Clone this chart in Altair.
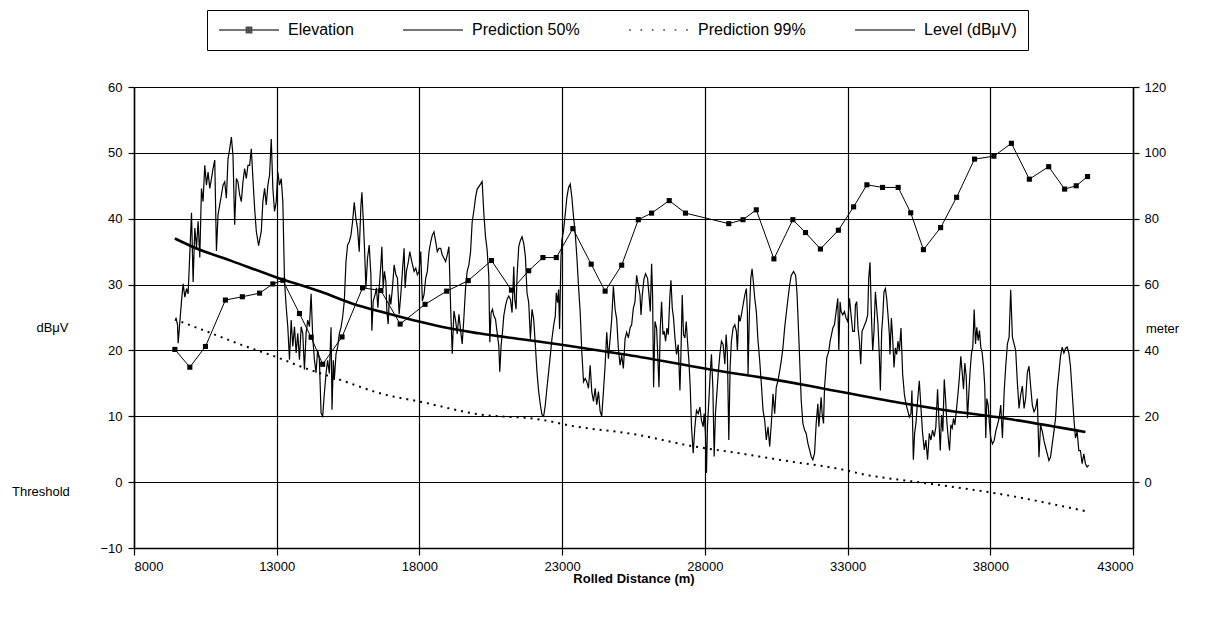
import altair as alt
import pandas as pd

FONT = "Liberation Sans"

# ---------------- data ----------------
x_ticks = [8000, 13000, 18000, 23000, 28000, 33000, 38000, 43000]
db_ticks = [-10, 0, 10, 20, 30, 40, 50, 60]
m_ticks = [0, 20, 40, 60, 80, 100, 120]
series_names = ["Elevation", "Prediction 50%", "Prediction 99%", "Level (dBμV)"]

elev_dist = [9432, 9956, 10504, 11202, 11796, 12400, 12864, 13214, 13797, 14205,
             14610, 15288, 16007, 16650, 17324, 18197, 18955, 19709, 20526, 21224,
             21828, 22327, 22795, 23375, 24017, 24506, 25086, 25669, 26134, 26752,
             27321, 28837, 29336, 29801, 30419, 31082, 31526, 32049, 32678, 33212,
             33677, 34225, 34773, 35213, 35657, 36261, 36820, 37448, 38126, 38740,
             39369, 40046, 40605, 41010, 41408]
elev_m = [40.3, 34.9, 41.2, 55.3, 56.3, 57.4, 60.2, 61.3, 51.2, 44.0,
          35.8, 44.1, 59.0, 58.2, 48.0, 54.0, 58.0, 61.2, 67.3, 58.3,
          64.2, 68.2, 68.2, 77.0, 66.2, 58.0, 65.9, 79.7, 81.7, 85.5,
          81.7, 78.5, 79.7, 82.7, 67.8, 79.7, 75.8, 70.8, 76.5, 83.6,
          90.3, 89.5, 89.5, 81.8, 70.6, 77.3, 86.5, 98.1, 99.0, 102.9,
          92.0, 95.8, 89.0, 90.0, 92.8]

p50_dist = [9432, 10130, 11412, 12924, 14554, 15657, 16824, 17987, 19000, 20083,
            22352, 25320, 28140, 30795, 32228, 35045, 36322, 38485, 41333]
p50_db = [37.0, 35.6, 33.6, 31.2, 28.9, 27.1, 25.7, 24.4, 23.4, 22.6,
          21.25, 19.3, 17.15, 15.3, 14.15, 11.9, 11.0, 9.7, 7.6]

p99_dist = [9432, 10714, 11761, 12924, 13971, 15078, 16824, 17987, 20083, 22237,
            23400, 25494, 27651, 28812, 30900, 32832, 33646, 34750, 36150, 38200, 41333]
p99_db = [24.7, 22.6, 20.85, 19.1, 17.35, 15.75, 13.25, 12.25, 10.3, 9.5,
          8.5, 7.3, 5.4, 4.65, 3.2, 1.9, 1.1, 0.4, -0.4, -1.7, -4.4]

level_pts = [
    (9467, 25.0), (9526, 23.9), (9547, 21.1), (9666, 27.6), (9722, 30.1), (9781, 28.1),
    (9841, 29.4), (9896, 28.6), (10015, 40.9), (10071, 30.4), (10130, 38.6), (10190, 35.6),
    (10246, 39.6), (10305, 34.1), (10364, 44.6), (10420, 42.6), (10480, 48.1), (10539, 45.1),
    (10595, 47.1), (10654, 44.6), (10714, 46.1), (10769, 47.6), (10829, 48.9), (10888, 35.1),
    (10944, 40.6), (11003, 42.1), (11063, 43.6), (11119, 45.1), (11178, 45.6), (11237, 43.1),
    (11293, 49.1), (11353, 50.6), (11412, 52.4), (11468, 49.6), (11527, 39.1), (11587, 46.1),
    (11642, 45.6), (11702, 43.6), (11761, 42.6), (11817, 45.6), (11876, 47.6), (11936, 46.1),
    (11992, 48.1), (12051, 48.1), (12110, 50.6), (12166, 46.1), (12226, 41.6), (12285, 38.1),
    (12365, 35.9), (12460, 38.1), (12515, 42.6), (12575, 44.6), (12634, 42.1), (12690, 45.1),
    (12749, 46.6), (12809, 52.1), (12865, 44.6), (12924, 41.1), (12983, 42.6), (13039, 47.1),
    (13098, 45.1), (13158, 46.1), (13214, 42.6), (13273, 30.6), (13332, 26.6), (13388, 23.6),
    (13448, 18.6), (13507, 24.6), (13563, 20.6), (13622, 23.6), (13681, 19.6), (13737, 22.6),
    (13797, 18.6), (13856, 23.6), (13912, 22.6), (13971, 17.1), (14030, 22.6), (14086, 24.6),
    (14146, 23.6), (14205, 28.6), (14261, 22.1), (14320, 18.6), (14379, 16.6), (14435, 20.1),
    (14495, 18.6), (14554, 10.5), (14610, 10.0), (14669, 13.5), (14728, 16.5), (14784, 18.5),
    (14844, 16.5), (14903, 23.5), (14938, 11.0), (14983, 18.5), (15018, 15.5), (15078, 19.5),
    (15134, 20.5), (15193, 22.5), (15252, 23.5), (15308, 25.0), (15368, 27.5), (15427, 33.5),
    (15483, 36.0), (15542, 36.5), (15601, 37.5), (15657, 39.5), (15717, 42.5), (15776, 40.0),
    (15832, 38.5), (15891, 35.0), (15950, 42.0), (15985, 44.0), (16031, 40.0), (16076, 35.5),
    (16125, 29.5), (16181, 34.0), (16240, 36.0), (16299, 31.5), (16334, 23.0), (16380, 27.5),
    (16450, 28.5), (16495, 29.5), (16544, 26.5), (16590, 29.5), (16649, 33.0), (16684, 35.75),
    (16730, 29.5), (16775, 32.0), (16824, 30.5), (16859, 26.0), (16905, 24.0), (16950, 28.5),
    (16999, 27.0), (17055, 29.5), (17114, 33.0), (17174, 31.5), (17229, 31.0), (17289, 25.5),
    (17348, 28.5), (17404, 32.0), (17463, 35.5), (17498, 29.5), (17544, 32.0), (17613, 33.5),
    (17662, 35.0), (17732, 33.5), (17812, 32.0), (17872, 32.5), (17928, 31.5), (17987, 32.0),
    (18046, 35.0), (18102, 27.5), (18162, 28.5), (18221, 31.0), (18277, 32.0), (18336, 35.0),
    (18396, 36.5), (18451, 37.5), (18511, 38.0), (18570, 36.5), (18626, 35.0), (18685, 35.5),
    (18745, 35.5), (18800, 34.5), (18860, 34.0), (18919, 33.5), (18975, 34.5), (19034, 35.75),
    (19094, 26.5), (19150, 19.5), (19209, 26.0), (19268, 24.5), (19324, 22.5), (19384, 25.5),
    (19443, 23.0), (19499, 21.0), (19558, 25.0), (19617, 29.5), (19673, 32.0), (19733, 33.0),
    (19792, 35.0), (19848, 39.5), (19908, 41.25), (19967, 43.25), (20023, 44.5), (20141, 45.25),
    (20197, 45.65), (20257, 40.75), (20316, 37.25), (20372, 35.25), (20431, 31.25), (20466, 21.25),
    (20511, 25.75), (20560, 26.25), (20606, 25.25), (20665, 24.75), (20721, 22.75), (20780, 20.75),
    (20815, 16.75), (20861, 20.75), (20910, 22.75), (20955, 25.25), (21015, 26.75), (21070, 27.75),
    (21130, 28.25), (21189, 27.75), (21245, 25.75), (21280, 29.75), (21305, 32.75), (21340, 27.75),
    (21385, 26.25), (21420, 31.25), (21479, 35.75), (21539, 36.75), (21595, 37.25), (21654, 36.25),
    (21713, 34.25), (21769, 28.75), (21829, 27.25), (21888, 21.75), (21944, 26.25), (22003, 24.75),
    (22062, 20.75), (22118, 16.75), (22178, 13.75), (22237, 11.75), (22293, 10.25), (22352, 10.0),
    (22411, 11.75), (22467, 14.25), (22527, 16.75), (22586, 19.25), (22642, 21.75), (22701, 23.75),
    (22760, 25.25), (22795, 28.75), (22841, 27.25), (22876, 29.25), (22911, 23.25), (22956, 33.75),
    (22991, 36.75), (23050, 38.25), (23110, 40.75), (23166, 43.25), (23225, 44.75), (23284, 45.25),
    (23340, 43.25), (23400, 40.25), (23459, 37.75), (23515, 34.25), (23574, 29.75), (23633, 25.75),
    (23689, 19.75), (23749, 15.25), (23808, 15.75), (23864, 15.25), (23923, 14.25), (23982, 17.75),
    (24038, 13.75), (24098, 12.25), (24157, 14.25), (24213, 11.75), (24272, 13.75), (24331, 10.75),
    (24387, 10.0), (24447, 13.75), (24506, 17.75), (24562, 22.75), (24621, 18.75), (24681, 21.75),
    (24736, 24.75), (24796, 29.75), (24855, 26.25), (24911, 24.75), (24971, 20.25), (25030, 17.75),
    (25086, 19.25), (25145, 17.25), (25204, 21.75), (25260, 22.75), (25320, 21.9), (25379, 23.4),
    (25435, 23.9), (25494, 26.4), (25553, 27.4), (25609, 31.4), (25669, 29.9), (25728, 28.4),
    (25763, 25.4), (25808, 28.4), (25868, 30.9), (25924, 31.65), (25994, 30.9), (26043, 28.4),
    (26088, 25.9), (26134, 33.15), (26169, 28.4), (26204, 14.4), (26253, 24.4), (26309, 23.4),
    (26344, 19.9), (26393, 14.4), (26438, 23.4), (26484, 27.4), (26533, 22.4), (26578, 22.9),
    (26624, 21.4), (26673, 23.4), (26718, 22.4), (26777, 28.4), (26812, 30.65), (26858, 26.4),
    (26903, 24.9), (26952, 21.9), (27008, 19.4), (27067, 20.9), (27127, 13.9), (27162, 19.4),
    (27207, 28.4), (27252, 22.4), (27301, 21.9), (27347, 24.4), (27392, 21.4), (27441, 18.4),
    (27487, 14.4), (27532, 8.4), (27592, 4.4), (27651, 8.4), (27707, 10.9), (27766, 10.4),
    (27825, 11.4), (27881, 9.4), (27941, 8.4), (27975, 10.4), (28021, 7.4), (28056, 1.4),
    (28091, 8.4), (28140, 12.4), (28186, 16.4), (28231, 19.4), (28280, 14.4), (28326, 3.9),
    (28371, 10.4), (28420, 13.4), (28466, 16.4), (28525, 19.4), (28581, 21.4), (28640, 20.9),
    (28700, 17.9), (28745, 22.4), (28790, 19.4), (28839, 6.4), (28885, 17.4), (28930, 21.4),
    (28990, 23.4), (29049, 23.9), (29105, 22.9), (29140, 19.9), (29189, 25.4), (29234, 24.4),
    (29280, 25.4), (29339, 26.9), (29399, 28.4), (29454, 29.4), (29489, 25.9), (29514, 16.4),
    (29559, 25.4), (29608, 30.9), (29654, 32.4), (29699, 30.4), (29748, 27.9), (29804, 25.9),
    (29863, 21.4), (29923, 18.4), (29979, 14.9), (30038, 10.9), (30097, 9.4), (30153, 6.4),
    (30213, 8.4), (30272, 5.4), (30328, 8.9), (30387, 13.4), (30446, 10.4), (30502, 14.4),
    (30562, 15.4), (30621, 16.9), (30677, 18.4), (30736, 20.4), (30795, 23.4), (30886, 26.9),
    (30970, 29.9), (31026, 31.4), (31110, 32.0), (31180, 31.4), (31225, 28.9), (31260, 25.4),
    (31320, 18.9), (31376, 12.4), (31435, 8.9), (31494, 7.9), (31550, 7.4), (31610, 5.9),
    (31669, 4.9), (31725, 3.9), (31784, 3.4), (31844, 4.4), (31900, 8.9), (31959, 11.9),
    (31994, 8.4), (32039, 10.9), (32074, 12.9), (32109, 10.4), (32158, 8.9), (32193, 14.4),
    (32228, 16.4), (32273, 18.9), (32343, 19.9), (32389, 21.4), (32437, 22.4), (32483, 23.4),
    (32542, 23.9), (32598, 25.9), (32657, 27.9), (32692, 19.9), (32738, 27.4), (32773, 25.9),
    (32832, 25.4), (32891, 25.9), (32947, 24.9), (33006, 24.4), (33066, 27.9), (33122, 25.4),
    (33181, 22.9), (33240, 22.9), (33275, 26.9), (33321, 27.4), (33366, 23.4), (33415, 21.4),
    (33461, 17.9), (33506, 22.9), (33555, 23.4), (33600, 23.9), (33646, 24.4), (33705, 25.4),
    (33740, 30.9), (33786, 33.4), (33835, 25.4), (33880, 19.9), (33926, 22.9), (33975, 28.9),
    (34020, 26.4), (34066, 23.9), (34115, 18.9), (34150, 13.9), (34195, 22.9), (34230, 24.9),
    (34276, 28.9), (34325, 29.4), (34370, 27.9), (34416, 25.4), (34465, 22.4), (34486, 19.4),
    (34535, 24.9), (34580, 21.9), (34626, 17.4), (34675, 20.4), (34720, 19.4), (34766, 21.4),
    (34815, 19.9), (34871, 23.4), (34930, 16.4), (34989, 13.4), (35045, 11.9), (35105, 10.9),
    (35164, 9.9), (35220, 10.4), (35255, 13.9), (35304, 3.4), (35349, 7.4), (35395, 8.9),
    (35454, 12.4), (35513, 15.4), (35569, 11.4), (35629, 7.4), (35688, 4.9), (35744, 6.4),
    (35803, 3.4), (35863, 7.4), (35919, 6.4), (35978, 7.9), (36037, 6.9), (36093, 8.4),
    (36153, 14.1), (36247, 4.8), (36293, 10.2), (36338, 7.7), (36387, 15.6), (36432, 12.7),
    (36478, 9.2), (36527, 6.7), (36572, 4.8), (36618, 8.7), (36667, 8.2), (36712, 9.7),
    (36758, 8.7), (36807, 10.7), (36853, 12.7), (36912, 15.6), (36968, 19.1), (37017, 16.6),
    (37062, 14.1), (37108, 18.1), (37157, 16.1), (37202, 9.7), (37262, 14.6), (37297, 17.1),
    (37342, 19.6), (37387, 20.5), (37436, 26.2), (37482, 21.0), (37527, 23.5), (37576, 21.5),
    (37622, 23.0), (37667, 20.5), (37716, 19.6), (37762, 17.6), (37807, 14.6), (37842, 6.7),
    (37877, 12.7), (37926, 11.7), (37972, 8.7), (38017, 6.7), (38077, 5.8), (38136, 6.3),
    (38192, 7.7), (38251, 8.7), (38310, 9.7), (38366, 11.7), (38426, 6.7), (38485, 13.6),
    (38541, 17.6), (38600, 21.0), (38659, 22.0), (38715, 29.2), (38775, 22.0), (38834, 21.0),
    (38890, 20.0), (38949, 15.1), (39008, 11.2), (39064, 13.2), (39124, 14.6), (39183, 11.2),
    (39239, 12.7), (39298, 16.6), (39357, 17.6), (39413, 14.6), (39473, 11.7), (39532, 10.7),
    (39588, 11.2), (39647, 12.7), (39706, 3.8), (39762, 8.7), (39822, 7.7), (39881, 6.3),
    (39937, 5.3), (39996, 4.3), (40055, 3.3), (40111, 3.8), (40171, 5.8), (40230, 7.7),
    (40286, 9.7), (40345, 14.1), (40404, 16.6), (40460, 19.1), (40520, 20.5), (40579, 19.6),
    (40635, 20.3), (40694, 20.5), (40753, 19.6), (40809, 17.6), (40869, 13.6), (40928, 9.7),
    (40984, 6.7), (41043, 7.7), (41102, 4.8), (41158, 4.8), (41218, 2.8), (41277, 4.3),
    (41333, 2.8), (41392, 2.3), (41451, 2.6),
]

# ---------------- tables ----------------
level_df = pd.DataFrame(level_pts, columns=["dist", "db"])
p50_df = pd.DataFrame({"dist": p50_dist, "db": p50_db})
p99_df = pd.DataFrame({"dist": p99_dist, "db": p99_db})
elev_df = pd.DataFrame({"dist": elev_dist, "m": elev_m})
legend_df = pd.DataFrame({"series": series_names})
thr_df = pd.DataFrame({"label": ["Threshold"], "db": [0]})

# legend symbols (custom paths in the -1..1 box)
legend_paths = [
    "M-1,0H1M-0.09,-0.09H0.09V0.09H-0.09ZM-0.04,-0.04H0.04V0.04H-0.04Z",
    "M-1,0H1",
    "M-1,0h0.06M-0.62,0h0.06M-0.24,0h0.06M0.14,0h0.06M0.52,0h0.06M0.9,0h0.06",
    "M-1,0H1",
]

x_enc = alt.X(
    "dist:Q",
    scale=alt.Scale(domain=[8000, 43000], nice=False),
    axis=alt.Axis(
        values=x_ticks, format="d", title="Rolled Distance (m)",
        grid=True, gridColor="black", gridWidth=1.2, gridOpacity=1,
        tickSize=7, tickColor="black", tickWidth=1.2,
        labelPadding=5, labelFontSize=13, labelColor="black", labelFont=FONT,
        titleFont=FONT, titleFontSize=13, titleFontWeight="bold", titleColor="black",
        titleY=30, titleBaseline="middle",
        domainColor="black", domainWidth=1.5,
    ),
)

y_db = alt.Y(
    "db:Q",
    scale=alt.Scale(domain=[-10, 60], nice=False),
    axis=alt.Axis(
        values=db_ticks, title="dBμV", orient="left",
        grid=True, gridColor="black", gridWidth=1.2, gridOpacity=1,
        tickSize=6, tickColor="black", tickWidth=1.2,
        labelPadding=6, labelFontSize=13, labelColor="black", labelFont=FONT,
        titleAngle=0, titleX=-82, titleY=240, titleAlign="center",
        titleBaseline="middle", titleFont=FONT, titleFontSize=13,
        titleFontWeight="normal", titleColor="black",
        domainColor="black", domainWidth=1.5,
    ),
)

y_m = alt.Y(
    "m:Q",
    scale=alt.Scale(domain=[-20, 120], nice=False),
    axis=alt.Axis(
        values=m_ticks, title="meter", orient="right", grid=False,
        tickSize=6, tickColor="black", tickWidth=1.2,
        labelPadding=5, labelFontSize=13, labelColor="black", labelFont=FONT,
        titleAngle=0, titleX=29, titleY=241, titleAlign="center",
        titleBaseline="middle", titleFont=FONT, titleFontSize=13,
        titleFontWeight="normal", titleColor="black",
        domainColor="black", domainWidth=1.5,
    ),
)

level = alt.Chart(level_df).mark_line(color="black", strokeWidth=1.2).encode(
    x=x_enc, y=y_db)
p50 = alt.Chart(p50_df).mark_line(color="black", strokeWidth=2.6,
                                  interpolate="monotone").encode(x=x_enc, y=y_db)
p99 = alt.Chart(p99_df).mark_line(color="black", strokeWidth=2,
                                  strokeDash=[2, 5],
                                  interpolate="monotone").encode(x=x_enc, y=y_db)
thr = alt.Chart(thr_df).mark_text(
    align="left", baseline="middle", dy=10, fontSize=13, font=FONT, color="black"
).encode(x=alt.value(-122), y=y_db, text="label:N")

legend_layer = alt.Chart(legend_df).mark_point(
    filled=False, color="black", strokeWidth=1.5
).encode(
    shape=alt.Shape(
        "series:N",
        scale=alt.Scale(domain=series_names, range=legend_paths),
        legend=alt.Legend(
            title=None, orient="none", legendX=73, legendY=-77,
            direction="horizontal", columns=4, columnPadding=48,
            symbolSize=3600, symbolStrokeWidth=1.4, symbolStrokeColor="black",
            symbolFillColor="black", clipHeight=18,
            labelFont=FONT, labelFontSize=16, labelColor="black", labelOffset=8,
            strokeColor="black", padding=11, fillColor="white",
        ),
    )
).transform_filter("false")

left = alt.layer(level, p50, p99, thr, legend_layer)

elev_line = alt.Chart(elev_df).mark_line(color="black", strokeWidth=1).encode(
    x=x_enc, y=y_m)
elev_pts = alt.Chart(elev_df).mark_square(color="black", size=26, opacity=1).encode(
    x=x_enc, y=y_m)
right = alt.layer(elev_line, elev_pts)

chart = alt.layer(left, right).resolve_scale(y="independent").properties(
    width=999, height=461,
    autosize=alt.AutoSizeParams(type="none"),
    padding={"left": 126, "top": 79, "right": 60, "bottom": 60},
).configure_view(stroke="black", strokeWidth=1.5).configure(
    font=FONT, background="white"
)

chart.save("out.html", embed_options={"renderer": "svg", "actions": False})
